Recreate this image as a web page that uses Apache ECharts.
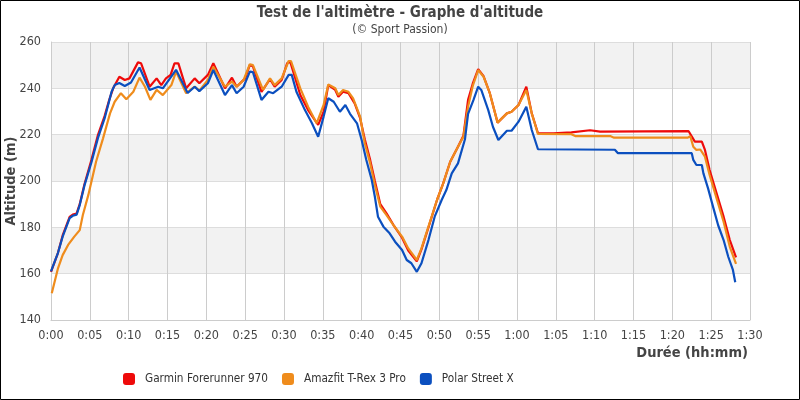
<!DOCTYPE html>
<html><head><meta charset="utf-8">
<script src="https://cdn.jsdelivr.net/npm/echarts@6/dist/echarts.min.js"></script>
<style>html,body{margin:0;padding:0;background:#fff}#c{width:800px;height:400px}</style>
</head><body><div id="c"></div>
<script>
const titleText = "Test de l'altimètre - Graphe d'altitude";
const subtitleText = "(© Sport Passion)";
const seriesNames = ["Garmin Forerunner 970", "Amazfit T-Rex 3 Pro", "Polar Street X"];
const seriesColors = ["#ee0a0a", "#ef8c1c", "#0b4fbf"];

// time in minutes / altitude in m
const garminTime = [0,0.9,1.5,2.4,2.8,3.3,3.7,4.3,5.2,6.05,6.9,7.5,8.0,8.8,9.5,10.1,11.2,11.6,12.7,13.6,14.2,14.8,15.4,15.9,16.4,17.4,18.5,19.1,20.2,20.9,22.4,23.3,23.9,25.0,25.6,26.0,27.1,28.2,28.8,29.7,30.4,30.8,32.1,33.1,34.4,35.1,35.7,36.6,37.0,37.6,38.3,39.1,39.8,40.4,41.1,41.7,42.4,43.2,44.1,45.2,46.0,47.1,47.7,48.6,49.7,50.5,51.4,52.4,53.1,53.7,54.3,55.0,55.7,56.5,57.5,58.7,59.3,60.2,61.2,61.9,62.7,64.7,67.0,69.4,70.7,82.1,82.3,82.9,83.8,84.2,84.8,85.7,86.6,87.4,88.2];
const garminAlt  = [160.8,169,176.5,184.5,185.5,186,190,198.5,209,219.9,228,235,240,245,243.6,244.3,251.2,250.8,240.7,244.3,241.4,244.3,245.8,250.8,250.8,240,244.3,242.2,245.8,250.8,240,244.6,240.7,244.3,250.1,249.5,238.5,244,240.7,243.6,250.8,251.5,237.1,230.6,224.2,229.9,241.4,239.3,236.4,238.5,237.9,233.5,227.1,218,209,200,190,186,181,175.5,170,165.3,170.5,180,191.8,199,208.3,214.8,219.5,235,242,248.3,245.2,237.9,225.2,229.2,229.9,232.8,240.7,229.2,220.6,220.6,221,221.9,221.3,221.5,222,217,217,213.4,204.7,194.7,184.6,174.5,167];

const amazfitTime = [0.1,0.9,1.5,2.2,3.0,3.7,4.1,4.8,5.8,6.7,7.6,8.2,9.0,9.7,10.6,11.4,12.1,12.8,13.6,14.4,15.5,16.1,17.4,18.5,19.1,20.2,20.9,22.4,23.3,23.9,24.8,25.6,26.0,27.3,28.2,28.8,29.7,30.6,30.9,32.1,33.1,34.2,35.1,35.7,36.6,37.0,37.6,38.3,38.9,39.8,40.4,41.1,41.7,42.4,43.2,44.1,45.2,46.0,47.1,47.7,48.6,49.7,50.5,51.4,52.4,53.1,53.7,54.3,55.0,55.7,56.5,57.5,58.7,59.3,60.2,61.2,61.9,62.7,67.0,67.5,72.0,72.5,82.0,82.3,82.7,83.1,83.6,84.2,84.8,85.7,86.6,87.4,88.2];
const amazfitAlt  = [151.5,162.3,168,172.4,176,178.8,185.3,193.9,208.3,218.4,229.2,234.2,237.9,235.3,238.5,244.6,240.7,235,239.3,237.1,241.4,247.2,237.9,240.7,239,243.6,249.3,240.7,242.9,240.7,243.6,250.4,250,239.3,244.3,241.4,244.3,251.8,251.8,240,232.1,224.9,232.8,241.7,240,237.1,239.3,238.5,235.7,227.8,216.3,207.6,198.3,188.9,185.3,180.9,176,170.9,165.9,170.9,180.3,191.8,199,208.3,214.8,219.1,232,241,247.9,245,237.9,225.2,229.2,229.9,232.8,239.3,229.2,220.3,220.2,219.4,219.4,218.7,218.7,219.4,214.8,213.4,213.6,210.5,202.6,192.5,182.4,171.6,164.2];

const polarTime = [0,0.9,1.5,2.4,2.8,3.3,3.7,4.3,5.2,6.05,6.9,7.8,8.2,8.8,9.5,10.3,11.4,12.7,13.8,14.4,16.1,17.6,18.5,19.1,20.2,20.9,22.4,23.3,23.9,24.8,25.6,26.0,27.1,28.0,28.6,29.7,30.6,31.0,31.6,32.7,33.6,34.4,35.1,35.7,36.4,37.2,37.9,38.5,39.4,40.0,40.6,41.3,41.7,42.1,42.8,43.6,44.3,45.2,45.8,46.4,47.1,47.7,48.6,49.4,50.3,50.9,51.6,52.4,53.3,53.7,54.4,55.0,55.4,56.3,56.9,57.6,58.7,59.3,60.2,61.2,61.9,62.7,72.6,73.0,82.5,82.7,83.1,83.8,84.0,84.6,85.3,85.9,86.6,87.2,87.8,88.1];
const polarAlt  = [161,169,176,184,185,185.5,189.6,198,208,218.6,227,238.5,241.4,242.3,241,242.5,249,239.3,240.7,240,248,238,240.7,238.8,242.2,247.9,237.1,241.4,237.9,240.7,247.2,247,235,238.5,237.9,240.7,245.8,245.8,238.5,230.6,224.9,219.1,227.8,235.7,234.2,229.9,232.8,229,224.9,217.7,209.1,200.4,193.2,184.6,180.3,177.4,173.8,170.2,165.9,164.5,160.8,164.5,174.5,184.6,191.8,196.1,203.3,207.6,218,229,235,240.7,239.3,230.6,223.4,217.7,221.7,221.7,225.6,232.1,222,213.7,213.5,212,212,209.1,206.9,206.9,203.3,196.8,188.2,180.9,174.5,167.3,161.6,156.3];

const xMin = 0, xMax = 90, xStep = 5;
const yMin = 140, yMax = 260, yStep = 20;

const zip = (t, v) => t.map((x, i) => [x, v[i]]);
const FONT = "'DejaVu Sans Condensed','DejaVu Sans',sans-serif";
const fmt = v => Math.floor(v / 60) + ':' + String(Math.round(v % 60)).padStart(2, '0');

const chart = echarts.init(document.getElementById('c'), null, {renderer: 'canvas'});
const data = [zip(garminTime, garminAlt), zip(amazfitTime, amazfitAlt), zip(polarTime, polarAlt)];
chart.setOption({
  animation: false,
  backgroundColor: '#fff',
  textStyle: {fontFamily: FONT},
  title: {
    text: titleText, subtext: subtitleText, left: 'center', top: 1, itemGap: 3,
    textStyle: {fontFamily: FONT, fontSize: 15, fontWeight: 'bold', color: '#444'},
    subtextStyle: {fontFamily: FONT, fontSize: 12, color: '#444'}
  },
  legend: {
    left: 118, top: 368, icon: 'roundRect', itemWidth: 12, itemHeight: 12, itemGap: 14,
    textStyle: {fontFamily: FONT, fontSize: 11.7, color: '#333', padding: [0, 0, 0, 5]},
    data: seriesNames
  },
  graphic: [{type: 'rect', shape: {x: 0.5, y: 0.5, width: 799, height: 399}, style: {fill: 'none', stroke: '#000', lineWidth: 1}, silent: true, z: 100}],
  grid: {left: 51, right: 50, top: 42, bottom: 80, outerBoundsMode: 'none', containLabel: false},
  xAxis: {
    type: 'value', min: xMin, max: xMax, interval: xStep,
    name: 'Durée (hh:mm)', nameLocation: 'end', nameGap: -2, nameMoveOverlap: false,
    nameTextStyle: {fontFamily: FONT, fontSize: 14.5, fontWeight: 'bold', color: '#444', align: 'right', verticalAlign: 'top', padding: [26, 0, 0, 0]},
    axisLine: {show: true, lineStyle: {color: '#cccccc'}},
    axisTick: {show: false},
    axisLabel: {formatter: fmt, fontFamily: FONT, fontSize: 12.5, color: '#444', margin: 9},
    splitLine: {show: true, lineStyle: {color: '#cccccc'}}
  },
  yAxis: {
    type: 'value', min: yMin, max: yMax, interval: yStep,
    name: 'Altitude (m)', nameLocation: 'middle', nameGap: 32, nameMoveOverlap: false,
    nameTextStyle: {fontFamily: FONT, fontSize: 14.5, fontWeight: 'bold', color: '#444'},
    axisLine: {show: true, lineStyle: {color: '#cccccc'}},
    axisTick: {show: false},
    axisLabel: {fontFamily: FONT, fontSize: 12.5, color: '#444', margin: 10},
    splitLine: {show: true, lineStyle: {color: '#dddddd'}},
    splitArea: {show: true, areaStyle: {color: ['#ffffff', '#f2f2f2']}}
  },
  series: seriesNames.map((n, i) => ({
    name: n, type: 'line', data: data[i], showSymbol: false, symbol: 'none',
    color: seriesColors[i], lineStyle: {width: 2.2, color: seriesColors[i]}
  }))
});
</script></body></html>
